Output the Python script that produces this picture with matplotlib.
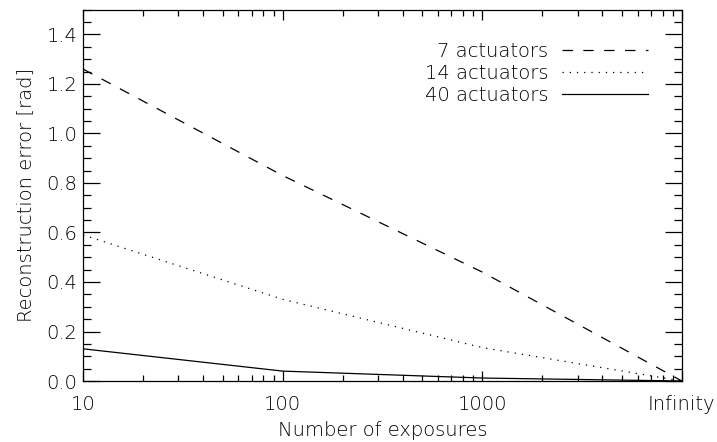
import numpy as np
import matplotlib
matplotlib.use("Agg")
import matplotlib.pyplot as plt
from matplotlib.ticker import FixedLocator, LogLocator, MultipleLocator, NullFormatter, FormatStrFormatter

# exposures, "Infinity" is put at 10000
exposures = [10, 100, 1000, 10000]
xtick_labels = ["10", "100", "1000", "Infinity"]

err_7 = [1.26, 0.83, 0.44, 0.0]
err_14 = [0.59, 0.33, 0.135, 0.0]
err_40 = [0.13, 0.04, 0.012, 0.0]

labels = ["7 actuators", "14 actuators", "40 actuators"]

plt.rcParams["lines.scale_dashes"] = False
plt.rcParams["font.family"] = "DejaVu Sans"
plt.rcParams["font.weight"] = 200
plt.rcParams["axes.labelweight"] = 200
plt.rcParams["text.color"] = "black"

fs = 14

fig = plt.figure(figsize=(7.17, 4.42), dpi=100)
ax = fig.add_axes([0.116, 0.138, 0.835, 0.840])

lw = 0.9
ax.plot(exposures, err_7, color="black", lw=lw, linestyle=(0, (7.5, 7.5)), label=labels[0])
ax.plot(exposures, err_14, color="black", lw=lw, linestyle=(0, (0.9, 4.3)), label=labels[1])
ax.plot(exposures, err_40, color="black", lw=lw, linestyle="-", label=labels[2])

ax.set_xscale("log")
ax.set_xlim(10, 10000)
ax.set_ylim(0, 1.5)

ax.xaxis.set_major_locator(FixedLocator(exposures))
ax.set_xticklabels(xtick_labels)
ax.xaxis.set_minor_locator(LogLocator(base=10, subs=np.arange(2, 10)))
ax.xaxis.set_minor_formatter(NullFormatter())
ax.yaxis.set_major_locator(MultipleLocator(0.2))
ax.yaxis.set_minor_locator(MultipleLocator(0.05))
ax.yaxis.set_major_formatter(FormatStrFormatter("%.1f"))

ax.tick_params(which="both", direction="in", top=True, right=True, width=0.9,
               labelsize=fs, color="black", labelcolor="black")
ax.tick_params(axis="x", which="major", length=7, pad=10)
ax.tick_params(axis="x", which="minor", length=4)
ax.tick_params(axis="y", which="major", length=12, pad=4)
ax.tick_params(axis="y", which="minor", length=6)
for s in ax.spines.values():
    s.set_linewidth(0.9)

ax.set_xlabel("Number of exposures", fontsize=fs, labelpad=5)
ax.set_ylabel("Reconstruction error [rad]", fontsize=fs, labelpad=8)

leg = ax.legend(loc="upper right", bbox_to_anchor=(0.972, 0.96), markerfirst=False, frameon=False,
                fontsize=fs, handlelength=4.4, handletextpad=0.7, labelspacing=0.15)

fig.savefig("out.png", dpi=100)
